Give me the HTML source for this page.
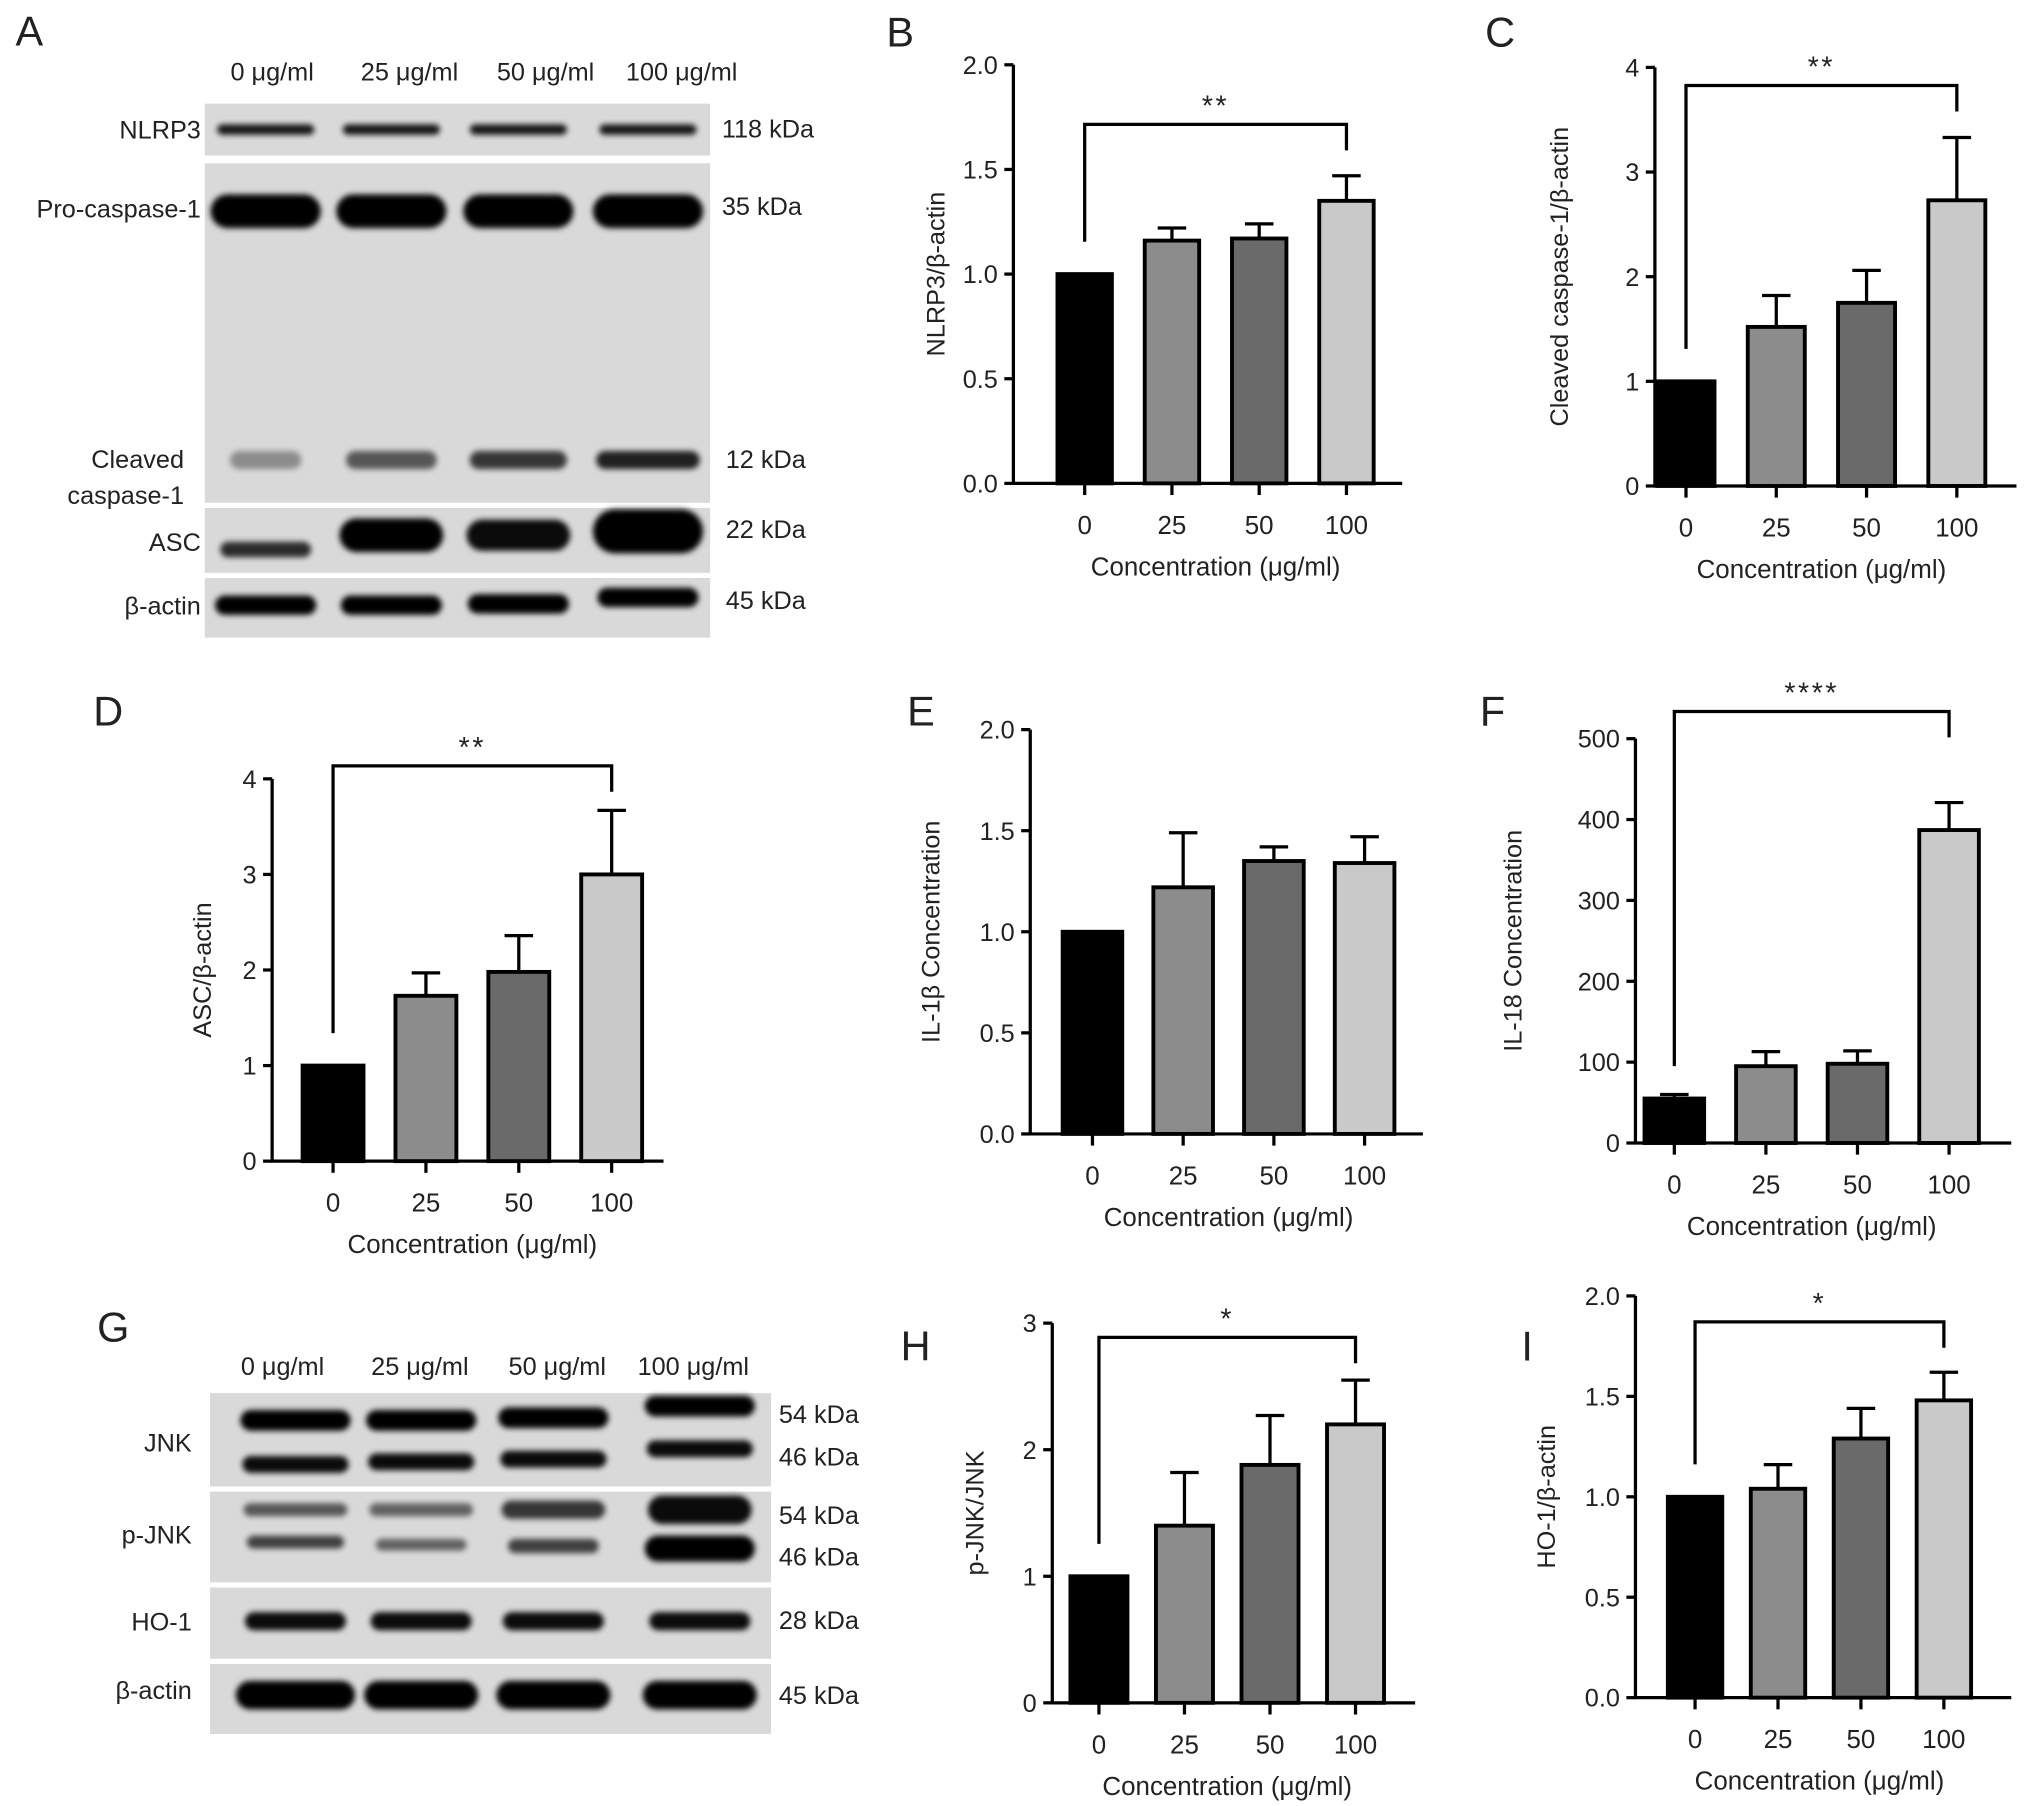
<!DOCTYPE html>
<html><head><meta charset="utf-8">
<style>
html,body{margin:0;padding:0;background:#fff;}
svg{display:block;}
text{font-family:"Liberation Sans",sans-serif;fill:#222;}
</style></head>
<body>
<svg id="fig" width="2032" height="1806" viewBox="0 0 1568 1393.6" preserveAspectRatio="none" xmlns="http://www.w3.org/2000/svg">
<defs>
<filter id="blur" x="-20%" y="-50%" width="140%" height="200%"><feGaussianBlur stdDeviation="2.2"/></filter>
</defs>
<g id="blots"></g>
<g id="charts"></g>
</svg>
<script>
const NS='http://www.w3.org/2000/svg';
const categories=['0','25','50','100'];
const barColors=['#000000','#8c8c8c','#6a6a6a','#c9c9c9'];
// Panel B
const bValues=[1.0,1.16,1.17,1.35];
const bErrors=[0,0.06,0.07,0.12];
const bTicks=['0.0','0.5','1.0','1.5','2.0'];
// Panel C
const cValues=[1.0,1.52,1.75,2.73];
const cErrors=[0,0.30,0.31,0.60];
const cTicks=['0','1','2','3','4'];
// Panel D
const dValues=[1.0,1.73,1.98,3.0];
const dErrors=[0,0.24,0.38,0.67];
const dTicks=['0','1','2','3','4'];
// Panel E
const eValues=[1.0,1.22,1.35,1.34];
const eErrors=[0,0.27,0.07,0.13];
const eTicks=['0.0','0.5','1.0','1.5','2.0'];
// Panel F
const fValues=[55,95,98,387];
const fErrors=[5,18,16,34];
const fTicks=['0','100','200','300','400','500'];
// Panel H
const hValues=[1.0,1.4,1.88,2.2];
const hErrors=[0,0.42,0.39,0.35];
const hTicks=['0','1','2','3'];
// Panel I
const iValues=[1.0,1.04,1.29,1.48];
const iErrors=[0,0.12,0.15,0.14];
const iTicks=['0.0','0.5','1.0','1.5','2.0'];

const charts=document.getElementById('charts');
function el(tag,attrs,parent,txt){const e=document.createElementNS(NS,tag);for(const k in attrs)e.setAttribute(k,attrs[k]);if(txt!==undefined)e.textContent=txt;(parent||charts).appendChild(e);return e;}

function drawChart(p){
  const g=el('g',{});
  
  
  const tickVals=p.ticks.map(Number);
  const ymax=tickVals[tickVals.length-1];
  const y=v=>p.y0-(v/ymax)*(p.y0-p.yTop);
  const x=i=>p.xc[0]+i*(p.xc[1]-p.xc[0])/3;
  // panel letter
  const L=el('text',{x:p.letter[0],y:p.letter[1],'font-size':32},g,p.id);
  
  
  // bars
  p.values.forEach((v,i)=>{
    const cx=x(i);
    const r=el('rect',{x:cx-p.bw/2,y:y(v),width:p.bw,height:p.y0-y(v),fill:barColors[i],stroke:'#000','stroke-width':3},g);
    
    
    if(p.errors[i]>0){
      const top=y(v+p.errors[i]);
      const e=el('path',{d:`M${cx},${y(v)}V${top}M${cx-11},${top}H${cx+11}`,stroke:'#000','stroke-width':2.5,fill:'none'},g);
      
      
    }
  });
  // axes
  const ax=el('path',{d:`M${p.ax},${p.yTop}V${p.y0}H${p.xEnd}`,stroke:'#000','stroke-width':2.5,fill:'none'},g);
  
  
  p.ticks.forEach((t,k)=>{
    const ty=y(tickVals[k]);
    el('line',{x1:p.ax-7,x2:p.ax,y1:ty,y2:ty,stroke:'#000','stroke-width':2.5},g);
    const tl=el('text',{x:p.ax-12,y:ty+7,'font-size':19.5,'text-anchor':'end'},g,t);
    
    
  });
  categories.forEach((c,i)=>{
    el('line',{x1:x(i),x2:x(i),y1:p.y0,y2:p.y0+9,stroke:'#000','stroke-width':2.5},g);
    const tl=el('text',{x:x(i),y:p.y0+39,'font-size':20,'text-anchor':'middle'},g,c);
    
    
  });
  const xt=el('text',{x:(x(0)+x(3))/2,y:p.y0+71,'font-size':20,'text-anchor':'middle'},g,'Concentration (\u03bcg/ml)');
  
  
  const yt=el('text',{x:0,y:0,'font-size':19.5,'text-anchor':'middle',transform:`translate(${p.ytx},${(p.yTop+p.y0)/2}) rotate(-90)`},g,p.ytitle);
  
  
  if(p.sig){
    const by=p.sig.y;
    const br=el('path',{d:`M${x(0)},${y(p.values[0])-25}V${by}H${x(3)}V${by+20}`,stroke:'#000','stroke-width':2.5,fill:'none'},g);
    
    
    const st=el('text',{x:(x(0)+x(3))/2,y:by-7,'font-size':22,'text-anchor':'middle','letter-spacing':'2'},g,p.sig.t);
    
    
  }
}

drawChart({id:'B',values:bValues,errors:bErrors,ticks:bTicks,ax:782,yTop:50,y0:373,xEnd:1082,xc:[837,1039],bw:42,ytx:729,ytitle:'NLRP3/\u03b2-actin',letter:[684,36],sig:{y:96,t:'**'}});
drawChart({id:'C',values:cValues,errors:cErrors,ticks:cTicks,ax:1277,yTop:52,y0:375,xEnd:1556,xc:[1301,1510],bw:44,ytx:1210,ytitle:'Cleaved caspase-1/\u03b2-actin',letter:[1146,36],sig:{y:66,t:'**'}});
drawChart({id:'D',values:dValues,errors:dErrors,ticks:dTicks,ax:210,yTop:601,y0:896,xEnd:512,xc:[257,472],bw:47,ytx:163,ytitle:'ASC/\u03b2-actin',letter:[72,560],sig:{y:591,t:'**'}});
drawChart({id:'E',values:eValues,errors:eErrors,ticks:eTicks,ax:795,yTop:563,y0:875,xEnd:1098,xc:[843,1053],bw:46,ytx:725,ytitle:'IL-1\u03b2 Concentration',letter:[700,560],sig:null});
drawChart({id:'F',values:fValues,errors:fErrors,ticks:fTicks,ax:1262,yTop:570,y0:882,xEnd:1552,xc:[1292,1504],bw:46,ytx:1174,ytitle:'IL-18 Concentration',letter:[1142,560],sig:{y:549,t:'****'}});
drawChart({id:'H',values:hValues,errors:hErrors,ticks:hTicks,ax:812,yTop:1021,y0:1314,xEnd:1092,xc:[848,1046],bw:44,ytx:759,ytitle:'p-JNK/JNK',letter:[695,1050],sig:{y:1032,t:'*'}});
drawChart({id:'I',values:iValues,errors:iErrors,ticks:iTicks,ax:1262,yTop:1000,y0:1310,xEnd:1552,xc:[1308,1500],bw:42,ytx:1200,ytitle:'HO-1/\u03b2-actin',letter:[1174,1050],sig:{y:1020,t:'*'}});

// ---------- blots ----------
const blots=document.getElementById('blots');
function b(tag,attrs,txt){return el(tag,attrs,blots,txt);}
function box(x,y,w,h,name){const r=b('rect',{x,y,width:w,height:h,fill:'#d9d9d9'});}
function band(cx,cy,w,h,op){b('rect',{x:cx-w/2,y:cy-h/2,width:w,height:h,rx:h/2,fill:'#000',opacity:op,filter:'url(#blur)'});}
function lbl(x,y,t,anchor,name,fs){const e=b('text',{x,y,'font-size':fs||19.5,'text-anchor':anchor||'start'},t);}

// Panel A
lbl(12,35,'A','start','panel-A-label',32);
const aCols=[205,302,400,500];
['0 \u03bcg/ml','25 \u03bcg/ml','50 \u03bcg/ml','100 \u03bcg/ml'].forEach((t,i)=>lbl([210,316,421,526][i],62,t,'middle','lane-header-A'));
box(158,80,390,40,'nlrp3-blot');
box(158,126,390,262,'caspase-1-blot');
box(158,392,390,50,'asc-blot');
box(158,446,390,46,'beta-actin-blot-A');
aCols.forEach((c,i)=>{
  band(c,100,75,8,0.9);
  band(c,163,85,26,1);
  band(c,355,[55,70,75,80][i],14,[0.35,0.6,0.75,0.85][i]);
  band(c,[424,413,413,410][i],[70,80,80,85][i],[12,26,24,34][i],[0.8,1,0.95,1][i]);
  band(c,[467,467,466,461][i],78,15,1);
});
lbl(155,107,'NLRP3','end','row-label-nlrp3');
lbl(155,168,'Pro-caspase-1','end','row-label-pro-caspase-1');
lbl(142,361,'Cleaved','end','row-label-cleaved');
lbl(142,389,'caspase-1','end','row-label-caspase-1');
lbl(155,425,'ASC','end','row-label-asc');
lbl(155,474,'\u03b2-actin','end','row-label-beta-actin-A');
lbl(557,106,'118 kDa','start','kda-118');
lbl(557,166,'35 kDa','start','kda-35');
lbl(560,361,'12 kDa','start','kda-12');
lbl(560,415,'22 kDa','start','kda-22');
lbl(560,470,'45 kDa','start','kda-45-A');

// Panel G
lbl(75,1035,'G','start','panel-G-label',32);
const gCols=[228,325,427,540];
['0 \u03bcg/ml','25 \u03bcg/ml','50 \u03bcg/ml','100 \u03bcg/ml'].forEach((t,i)=>lbl([218,324,430,535][i],1061,t,'middle','lane-header-G'));
box(162,1075,433,72,'jnk-blot');
box(162,1151,433,70,'p-jnk-blot');
box(162,1225,433,55,'ho-1-blot');
box(162,1284,433,54,'beta-actin-blot-G');
gCols.forEach((c,i)=>{
  band(c,[1096,1096,1094,1085][i],85,16,1);
  band(c,[1130,1128,1126,1118][i],82,13,0.95);
  band(c,1165,80,[10,10,14,22][i],[0.6,0.55,0.75,0.95][i]);
  band(c,[1190,1192,1193,1195][i],[75,70,70,85][i],[10,9,11,20][i],[0.7,0.55,0.7,1][i]);
  band(c,1251,78,14,0.95);
  band(c,1308,[92,88,88,88][i],22,1);
});
lbl(148,1120,'JNK','end','row-label-jnk');
lbl(148,1191,'p-JNK','end','row-label-p-jnk');
lbl(148,1258,'HO-1','end','row-label-ho-1');
lbl(148,1311,'\u03b2-actin','end','row-label-beta-actin-G');
lbl(601,1098,'54 kDa','start','kda-54-jnk');
lbl(601,1131,'46 kDa','start','kda-46-jnk');
lbl(601,1176,'54 kDa','start','kda-54-pjnk');
lbl(601,1208,'46 kDa','start','kda-46-pjnk');
lbl(601,1257,'28 kDa','start','kda-28');
lbl(601,1315,'45 kDa','start','kda-45-G');
</script>
</body></html>
